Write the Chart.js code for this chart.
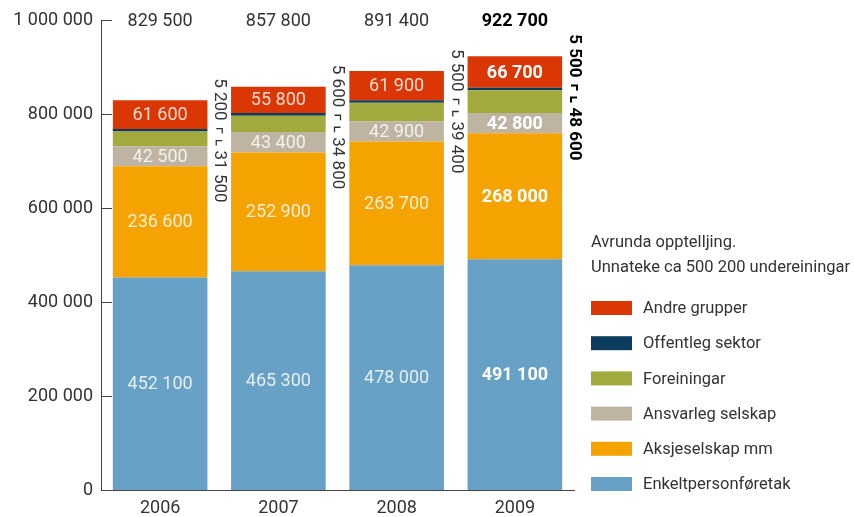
<!DOCTYPE html>
<html>
<head>
<meta charset="utf-8">
<script src="https://cdn.jsdelivr.net/npm/chart.js@4.4.1/dist/chart.umd.min.js"></script>
<style>
  html, body { margin: 0; padding: 0; background: #fff; }
  #wrap { position: relative; width: 854px; height: 517px; }
</style>
</head>
<body>
<div id="wrap"><canvas id="chart"></canvas></div>
<script>
// Data
const years = ['2006', '2007', '2008', '2009'];
const enkeltperson = [452100, 465300, 478000, 491100];
const aksjeselskap = [236600, 252900, 263700, 268000];
const ansvarleg = [42500, 43400, 42900, 42800];
const foreiningar = [31500, 34800, 39400, 48600];
const offentleg = [5200, 5600, 5500, 5500];
const andre = [61600, 55800, 61900, 66700];
const totals = [829500, 857800, 891400, 922700];
const yTicks = [0, 200000, 400000, 600000, 800000, 1000000];
const noteLines = ['Avrunda opptelljing.', 'Unnateke ca 500 200 undereiningar'];

const FONT = 'Roboto, "DejaVu Sans", sans-serif';
const TEXT = '#333333';

function fmt(n) {
    return String(n).replace(/\B(?=(\d{3})+(?!\d))/g, ' ');
}

// which series get a value printed inside the bar
const datasets = [
    { label: 'Enkeltpersonføretak', data: enkeltperson, backgroundColor: '#67a1c5', inner: true },
    { label: 'Aksjeselskap mm', data: aksjeselskap, backgroundColor: '#f4a300', inner: true },
    { label: 'Ansvarleg selskap', data: ansvarleg, backgroundColor: '#bfb4a2', inner: true },
    { label: 'Foreiningar', data: foreiningar, backgroundColor: '#a2aa3d', inner: false },
    { label: 'Offentleg sektor', data: offentleg, backgroundColor: '#0b3c5d', inner: false },
    { label: 'Andre grupper', data: andre, backgroundColor: '#db3705', inner: true }
];

const decorPlugin = {
    id: 'decor',
    beforeDatasetsDraw(chart) {
        // short inward tick marks on the y axis
        const ctx = chart.ctx;
        const y = chart.scales.y;
        const left = chart.chartArea.left;
        ctx.save();
        ctx.strokeStyle = '#444';
        ctx.lineWidth = 1;
        y.ticks.forEach(t => {
            const py = Math.round(y.getPixelForValue(t.value)) + 0.5;
            ctx.beginPath();
            ctx.moveTo(left, py);
            ctx.lineTo(left + 11, py);
            ctx.stroke();
        });
        ctx.restore();
    },
    afterDatasetsDraw(chart) {
        const ctx = chart.ctx;
        const xs = chart.scales.x;
        const last = years.length - 1;
        ctx.save();

        // values inside segments
        ctx.textAlign = 'center';
        ctx.textBaseline = 'middle';
        chart.data.datasets.forEach((ds, d) => {
            if (!ds.inner) return;
            chart.getDatasetMeta(d).data.forEach((bar, i) => {
                const bold = i === last;
                ctx.font = (bold ? 'bold ' : '') + '18px ' + FONT;
                ctx.fillStyle = bold ? '#ffffff' : 'rgba(255,255,255,0.82)';
                ctx.fillText(fmt(ds.data[i]), bar.x, (bar.y + bar.base) / 2 + 1);
            });
        });

        // totals above the bars
        totals.forEach((v, i) => {
            const bold = i === last;
            ctx.font = (bold ? 'bold ' : '') + '18px ' + FONT;
            ctx.fillStyle = bold ? '#000' : TEXT;
            ctx.fillText(fmt(v), xs.getPixelForValue(i), 21);
        });

        // rotated small values beside each bar (offentleg / foreiningar)
        const topMeta = chart.getDatasetMeta(chart.data.datasets.length - 1);
        const step = xs.getPixelForValue(1) - xs.getPixelForValue(0);
        topMeta.data.forEach((bar, i) => {
            const bold = i === last;
            const x = bar.x + step / 2;
            const y0 = bar.y - 22;
            ctx.font = (bold ? 'bold ' : '') + '17px ' + FONT;
            ctx.fillStyle = bold ? '#000' : TEXT;
            ctx.strokeStyle = bold ? '#000' : TEXT;
            ctx.lineWidth = bold ? 2 : 1.3;
            const a = fmt(offentleg[i]);
            const b = fmt(foreiningar[i]);
            const wa = ctx.measureText(a).width;
            ctx.save();
            ctx.translate(x, y0);
            ctx.rotate(Math.PI / 2);
            ctx.textAlign = 'left';
            ctx.textBaseline = 'middle';
            ctx.fillText(a, 0, 0);
            ctx.fillText(b, wa + 30, 0);
            ctx.restore();
            // the two small corner marks
            const b1 = y0 + wa + 8;
            const b2 = y0 + wa + 20;
            ctx.beginPath();
            ctx.moveTo(x - 3, b1); ctx.lineTo(x + 3, b1); ctx.lineTo(x + 3, b1 + 5);
            ctx.moveTo(x + 3, b2); ctx.lineTo(x - 3, b2); ctx.lineTo(x - 3, b2 + 5);
            ctx.stroke();
        });

        // note + legend on the right
        ctx.textAlign = 'left';
        ctx.textBaseline = 'middle';
        ctx.font = '16.5px ' + FONT;
        ctx.fillStyle = TEXT;
        noteLines.forEach((t, k) => ctx.fillText(t, 591, 243 + k * 25));
        const items = chart.data.datasets.slice().reverse();
        items.forEach((ds, k) => {
            const cy = 308 + k * 35.2;
            ctx.fillStyle = ds.backgroundColor;
            ctx.fillRect(591, cy - 7, 41, 14);
            ctx.fillStyle = TEXT;
            ctx.fillText(ds.label, 643, cy + 1);
        });
        ctx.restore();
    }
};

new Chart(document.getElementById('chart'), {
    type: 'bar',
    data: { labels: years, datasets: datasets },
    options: {
        responsive: true,
        maintainAspectRatio: false,
        animation: false,
        layout: { padding: { left: 0, right: 280, top: 20, bottom: 0 } },
        plugins: { legend: { display: false }, tooltip: { enabled: false } },
        datasets: { bar: { barPercentage: 0.8, categoryPercentage: 1.0 } },
        scales: {
            x: {
                stacked: true,
                grid: { display: false, drawTicks: false },
                border: { display: true, color: '#444', width: 1 },
                ticks: { color: TEXT, font: { family: FONT, size: 18 }, padding: 8 },
                afterFit: s => { s.height = 27; }
            },
            y: {
                stacked: true,
                min: 0,
                max: 1000000,
                grid: { display: false, drawTicks: false },
                border: { display: true, color: '#444', width: 1 },
                ticks: {
                    color: TEXT,
                    font: { family: FONT, size: 18 },
                    padding: 8,
                    callback: v => fmt(v)
                },
                afterBuildTicks: s => { s.ticks = yTicks.map(v => ({ value: v })); },
                afterFit: s => { s.width = 101; }
            }
        }
    },
    plugins: [decorPlugin]
});
</script>
</body>
</html>
